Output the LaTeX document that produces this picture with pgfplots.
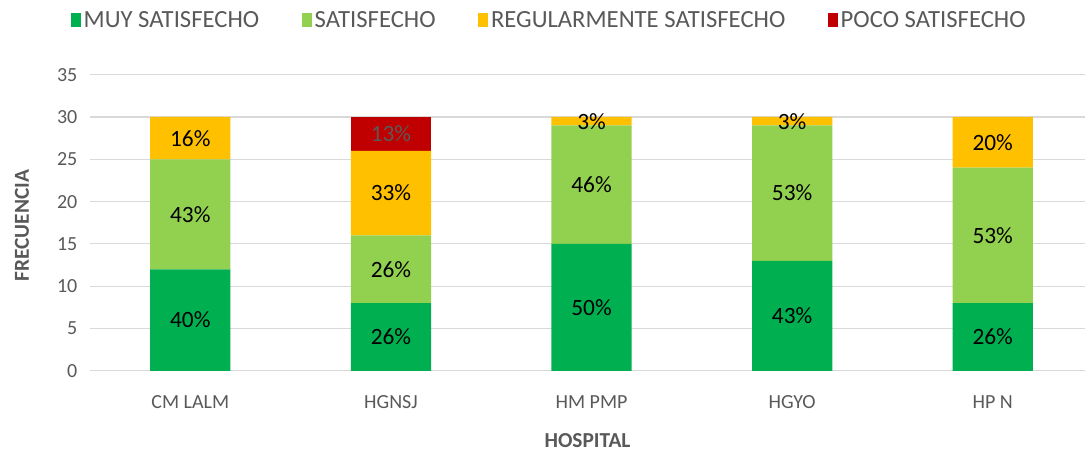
\documentclass[border=0pt]{standalone}
\usepackage{pgfplots}
\pgfplotsset{compat=1.18}
\usepackage{fontspec}
\setmainfont{Carlito}
\definecolor{muy}{HTML}{00B050}
\definecolor{sat}{HTML}{92D050}
\definecolor{reg}{HTML}{FFC000}
\definecolor{poco}{HTML}{C00000}
\definecolor{txt}{HTML}{595959}
\definecolor{grd}{HTML}{D9D9D9}
\begin{document}
\begin{tikzpicture}
\begin{axis}[
    scale only axis,
    width=746pt, height=222pt,
    ybar stacked,
    bar width=0.4,
    xmin=-0.5, xmax=4.46,
    ymin=0, ymax=35,
    ytick={0,5,...,35},
    xtick=data,
    xticklabels={CM LALM, HGNSJ, HM PMP, HGYO, HP N},
    axis y line*=left,
    axis x line*=bottom,
    y axis line style={draw=none},
    x axis line style={grd, line width=0.8pt},
    major tick length=0pt,
    ymajorgrids,
    grid style={grd, line width=0.8pt},
    tick label style={font=\fontsize{15}{17}\selectfont, text=txt},
    yticklabel style={xshift=-6pt},
    xticklabel style={yshift=-15pt},
    /pgf/number format/assume math mode=true,
    ylabel={FRECUENCIA},
    xlabel={HOSPITAL},
    label style={font=\fontsize{16}{18}\selectfont\bfseries, text=txt},
    ylabel style={at={(rel axis cs:0,0.49)}, anchor=center, yshift=51pt},
    xlabel style={at={(rel axis cs:0.5,0)}, anchor=center, yshift=-52pt},
    point meta=explicit symbolic,
    nodes near coords,
    every node near coord/.append style={anchor=center,
        font=\fontsize{17.5}{19}\selectfont, text=black},
    legend style={at={(0.462,1)}, anchor=center, yshift=41pt, draw=none,
        legend columns=4, font=\fontsize{18.5}{20}\selectfont, text=txt,
        /tikz/every even column/.append style={column sep=30pt}},
    legend image code/.code={\fill[#1] (0pt,-5pt) rectangle (7.5pt,5.5pt);},
]
\addplot[fill=muy, draw=none] coordinates {
    (0,12) [40\%] (1,8) [26\%] (2,15) [50\%] (3,13) [43\%] (4,8) [26\%]};
\addplot[fill=sat, draw=none] coordinates {
    (0,13) [43\%] (1,8) [26\%] (2,14) [46\%] (3,16) [53\%] (4,16) [53\%]};
\addplot[fill=reg, draw=none] coordinates {
    (0,5) [16\%] (1,10) [33\%] (2,1) [3\%] (3,1) [3\%] (4,6) [20\%]};
\addplot[fill=poco, draw=none, every node near coord/.append style={text=txt}] coordinates {
    (0,0) [] (1,4) [13\%] (2,0) [] (3,0) [] (4,0) []};
\legend{MUY SATISFECHO, SATISFECHO, REGULARMENTE SATISFECHO, POCO SATISFECHO}
\coordinate (bl) at (rel axis cs:0,0);
\coordinate (tr) at (rel axis cs:1,1);
\end{axis}
\pgfresetboundingbox
\path[use as bounding box] ([shift={(-67.5pt,-62pt)}]bl) rectangle ([shift={(0pt,56pt)}]tr);
\end{tikzpicture}
\end{document}
